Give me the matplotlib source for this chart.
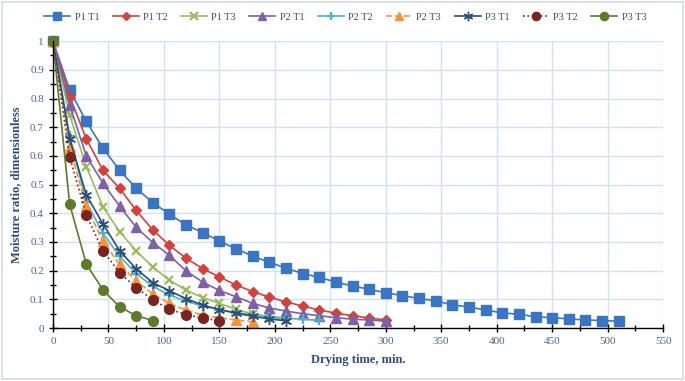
import matplotlib
import numpy as np
from matplotlib import pyplot as plt
from matplotlib.patches import Rectangle
from matplotlib.ticker import MultipleLocator

matplotlib.use("agg")

# drying time in minutes, 15 min steps
step = 15

p1_t1 = [1, 0.83, 0.72, 0.627, 0.55, 0.487, 0.437, 0.397, 0.359, 0.333, 0.303, 0.276,
         0.251, 0.229, 0.209, 0.19, 0.177, 0.16, 0.147, 0.135, 0.123, 0.113, 0.103, 0.095,
         0.081, 0.073, 0.063, 0.053, 0.048, 0.039, 0.036, 0.032, 0.028, 0.026, 0.024]
p1_t2 = [1, 0.807, 0.66, 0.55, 0.487, 0.41, 0.342, 0.288, 0.243, 0.207, 0.178, 0.15,
         0.127, 0.108, 0.091, 0.077, 0.063, 0.052, 0.043, 0.035, 0.028]
p1_t3 = [1, 0.743, 0.563, 0.423, 0.336, 0.269, 0.212, 0.167, 0.132, 0.106, 0.086, 0.065,
         0.049, 0.04, 0.028]
p2_t1 = [1, 0.777, 0.6, 0.505, 0.425, 0.351, 0.298, 0.253, 0.199, 0.16, 0.131, 0.109,
         0.086, 0.07, 0.059, 0.05, 0.043, 0.036, 0.031, 0.028, 0.024]
p2_t2 = [1, 0.67, 0.44, 0.33, 0.25, 0.19, 0.145, 0.115, 0.093, 0.077, 0.064, 0.054,
         0.046, 0.04, 0.035, 0.03, 0.027]
p2_t3 = [1, 0.63, 0.425, 0.303, 0.222, 0.164, 0.119, 0.086, 0.062, 0.045, 0.036, 0.028,
         0.022]
p3_t1 = [1, 0.66, 0.464, 0.363, 0.27, 0.206, 0.158, 0.13, 0.102, 0.08, 0.064, 0.052,
         0.041, 0.032, 0.025]
p3_t2 = [1, 0.595, 0.394, 0.269, 0.193, 0.141, 0.098, 0.065, 0.047, 0.034, 0.026]
p3_t3 = [1, 0.432, 0.223, 0.133, 0.074, 0.043, 0.026]

series = [
    ("P1 T1", p1_t1, "#3a75c4", "s", 7, "-"),
    ("P1 T2", p1_t2, "#d0433c", "D", 5, "-"),
    ("P1 T3", p1_t3, "#9bbb59", "x", 6, "-"),
    ("P2 T1", p2_t1, "#7f5fa6", "^", 7, "-"),
    ("P2 T2", p2_t2, "#4bb2cc", "+", 7, "-"),
    ("P2 T3", p2_t3, "#f7923a", "^", 7, "--"),
    ("P3 T1", p3_t1, "#2c4d75", (6, 2, 0), 8, "-"),
    ("P3 T2", p3_t2, "#7a2422", "o", 7, ":"),
    ("P3 T3", p3_t3, "#5f7a2c", "o", 7, "-"),
]

plt.rcParams["font.family"] = ["Liberation Serif", "DejaVu Serif"]

fig = plt.figure(figsize=(6.85, 3.81), dpi=100)
fig.patches.append(Rectangle((0.003, 0.004), 0.994, 0.99, transform=fig.transFigure,
                             fill=False, edgecolor="#d6dce5", linewidth=1.2))
ax = fig.add_axes([0.0774, 0.139, 0.8906, 0.753])

for label, vals, color, marker, ms, ls in series:
    t = np.arange(len(vals)) * step
    mew = 1.6 if marker in ("x", "+") else 1.0
    ax.plot(t, vals, linestyle=ls, color=color, linewidth=1.2, marker=marker,
            markersize=ms, markeredgecolor=color, markeredgewidth=mew, label=label,
            clip_on=False)

ax.set_xlim(0, 550)
ax.set_ylim(0, 1)
ax.xaxis.set_major_locator(MultipleLocator(50))
ax.xaxis.set_minor_locator(MultipleLocator(25))
ax.yaxis.set_major_locator(MultipleLocator(0.1))
ax.yaxis.set_minor_locator(MultipleLocator(0.05))
ax.set_yticks(np.arange(0, 1.01, 0.1))
ax.set_yticklabels(["0", "0.1", "0.2", "0.3", "0.4", "0.5", "0.6", "0.7", "0.8", "0.9", "1"])

ax.grid(True, which="major", color="#d5e1f2", linewidth=1.0)
ax.set_axisbelow(True)
for side in ("top", "right"):
    ax.spines[side].set_visible(False)
for side in ("left", "bottom"):
    ax.spines[side].set_color("black")
    ax.spines[side].set_linewidth(1.0)

ax.tick_params(which="major", direction="inout", length=6, width=1, colors="black",
               labelcolor="#4a6590", labelsize=8)
ax.tick_params(which="minor", direction="inout", length=4, width=1, colors="black")

ax.set_xlabel("Drying time, min.", fontsize=9, fontweight="bold", color="#2f4a7a", labelpad=6)
ax.set_ylabel("Moisture ratio, dimensionless", fontsize=9, fontweight="bold", color="#2f4a7a",
              labelpad=6)

leg = ax.legend(loc="center", bbox_to_anchor=(0.479, 1.084), ncol=9, frameon=False,
                fontsize=7.5, handlelength=2.5, columnspacing=1.3, handletextpad=0.4,
                borderaxespad=0, borderpad=0, markerscale=0.85)
for text in leg.get_texts():
    text.set_color("#3a4a6a")

plt.savefig("out.png", dpi=100)
